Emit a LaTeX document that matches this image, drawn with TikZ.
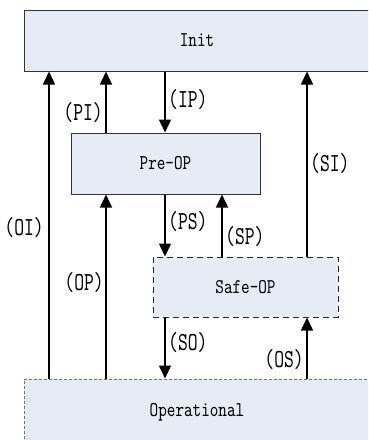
\documentclass[tikz,border=0pt]{standalone}
\usepackage{fontspec}
\setmainfont{Liberation Serif}
\newfontfamily\boxfont{lmmono10-regular.otf}[FakeStretch=0.78]
\newfontfamily\lblfont{lmmono10-regular.otf}[FakeStretch=0.72]
\usetikzlibrary{arrows.meta}
\definecolor{boxfill}{HTML}{E6ECF6}
\definecolor{opgray}{HTML}{707070}
\tikzset{
  statebox/.style={rectangle, fill=boxfill, inner sep=0pt, font=\boxfont\fontsize{21}{24}\selectfont},
  arr/.style={line width=1.4pt, -{Triangle[length=13pt,width=12pt]}},
  lbl/.style={inner sep=0pt, font=\lblfont\fontsize{26}{29}\selectfont},
}
\begin{document}
\begin{tikzpicture}[x=1pt,y=-1pt]
\useasboundingbox (0,0) rectangle (368,440);
\clip (0,0) rectangle (368,440);
% boxes
\node[statebox, draw=black!80, line width=1pt, minimum width=346, minimum height=61] (init) at (197,40.5) {Init};
\node[statebox, draw=black!80, line width=1pt, minimum width=189, minimum height=61] (preop) at (165.5,163.5) {Pre-OP};
\node[statebox, draw=black!85, line width=1pt, dash pattern=on 6pt off 4pt, minimum width=185, minimum height=60] (safeop) at (245.5,287) {Safe-OP};
\node[statebox, draw=opgray, line width=1pt, dash pattern=on 3pt off 2pt, minimum width=346, minimum height=66] (oper) at (197,412) {Operational};
% x positions
\coordinate (xa) at (49,0);
\coordinate (xb) at (106,0);
\coordinate (xc) at (165,0);
\coordinate (xd) at (222,0);
\coordinate (xe) at (307,0);
% arrows
\draw[arr] (oper.north -| xa) -- (init.south -| xa);
\draw[arr] (preop.north -| xb) -- (init.south -| xb);
\draw[arr] (init.south -| xc) -- (preop.north -| xc);
\draw[arr] (safeop.north -| xe) -- (init.south -| xe);
\draw[arr] (oper.north -| xb) -- (preop.south -| xb);
\draw[arr] (preop.south -| xc) -- (safeop.north -| xc);
\draw[arr] (safeop.north -| xd) -- (preop.south -| xd);
\draw[arr] (safeop.south -| xc) -- (oper.north -| xc);
\draw[arr] (oper.north -| xe) -- (safeop.south -| xe);
% labels
\node[lbl, anchor=east] (lPI) at (103,113) {(PI)};
\node[lbl, anchor=west] (lIP) at (168,100) {(IP)};
\node[lbl, anchor=west] (lSI) at (310,164) {(SI)};
\node[lbl, anchor=east] (lOI) at (44,228) {(OI)};
\node[lbl, anchor=west] (lPS) at (168,222) {(PS)};
\node[lbl, anchor=west] (lSP) at (225,237) {(SP)};
\node[lbl, anchor=east] (lOP) at (104,283) {(OP)};
\node[lbl, anchor=west] (lSO) at (168,343) {(SO)};
\node[lbl, anchor=east] (lOS) at (304,360) {(OS)};
\end{tikzpicture}
\end{document}
